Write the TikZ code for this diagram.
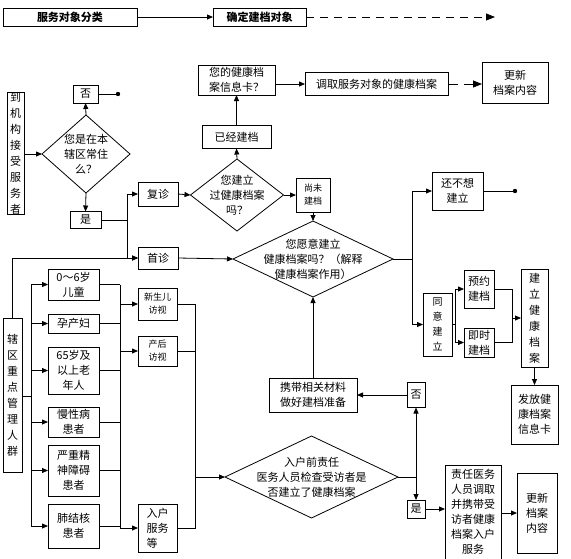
\documentclass[tikz,border=0pt]{standalone}
\usepackage{fontspec}
\setmainfont{Noto Sans CJK SC}
\usetikzlibrary{shapes.geometric,arrows.meta}
\begin{document}
\begin{tikzpicture}[x=1pt,y=-1pt,
  box/.style={draw,line width=0.8pt,rectangle,inner sep=0pt,outer sep=0pt,align=center,font=\fontsize{11}{15}\selectfont},
  dia/.style={draw,line width=0.8pt,diamond,inner sep=0pt,outer sep=0pt},
  txt/.style={align=center,inner sep=0pt,font=\fontsize{11}{15}\selectfont},
  arr/.style={-{Triangle[length=6pt,width=5pt]},line width=0.8pt},
  ln/.style={line width=0.8pt},
  sm/.style={font=\fontsize{9}{13}\selectfont},
  vt/.style={font=\fontsize{11}{16}\selectfont},
  hd/.style={font=\fontsize{11}{15}\selectfont\bfseries}]
\useasboundingbox (0,0) rectangle (571,558);
% header
\node[box,hd,minimum width=134pt,minimum height=18pt] (h1) at (70,17) {服务对象分类};
\node[box,hd,minimum width=93pt,minimum height=18pt] (h2) at (259.5,17) {确定建档对象};
\coordinate (hend) at (495,17);
\draw[arr] (h1.east) -- (h2.west);
\draw[ln,dashed,dash pattern=on 8pt off 6pt,-{Triangle[length=9pt,width=7pt]}] (h2.east) -- (hend);
% upper left
\node[box,vt,minimum width=17pt,minimum height=118pt] (dao) at (15.5,153) {到\\机\\构\\接\\受\\服\\务\\者};
\node[dia,minimum width=88pt,minimum height=78pt] (d1) at (86,154) {};
\node[txt] (d1t) at (86,154) {您是在本\\辖区常住\\么？};
\node[box,minimum width=25pt,minimum height=18pt] (fou1) at (85.5,94) {否};
\coordinate (dot1) at (118,94);
\node[box,minimum width=31pt,minimum height=17pt] (shi1) at (85.5,220) {是};
\node[box,minimum width=40pt,minimum height=24pt] (fuzhen) at (158,194) {复诊};
\node[box,minimum width=40pt,minimum height=22pt] (shouzhen) at (158,258) {首诊};
\draw[arr] (dao.east |- d1.west) -- (d1.west);
\draw[arr] (d1.north) -- (fou1.south);
\draw[ln] (fou1.east) -- (dot1);
\fill (dot1) circle (2.2pt);
\draw[arr] (d1.south) -- (shi1.north);
\coordinate (b1) at (127,220);
\draw[ln] (shi1.east) -- (b1);
\draw[arr] (b1) |- (fuzhen.west);
\draw[arr] (b1) |- (shouzhen.west);
% middle top
\node[dia,minimum width=93pt,minimum height=72pt] (d2) at (237,195) {};
\node[txt] (d2t) at (237,195) {您建立\\过健康档案\\吗？};
\node[box,minimum width=69pt,minimum height=23pt] (yijing) at (236.5,137) {已经建档};
\node[box,minimum width=77pt,minimum height=30pt] (card) at (236.5,80) {您的健康档\\案信息卡？};
\node[box,minimum width=143pt,minimum height=23pt] (diaoqu) at (376.5,84) {调取服务对象的健康档案};
\node[box,minimum width=66pt,minimum height=41pt] (gx1) at (515,82.5) {更新\\档案内容};
\node[box,sm,minimum width=34pt,minimum height=34pt] (shangwei) at (313,195) {尚未\\建档};
\draw[arr] (fuzhen.east) -- (d2.west);
\draw[arr] (d2.north) -- (yijing.south);
\draw[arr] (yijing.north) -- (card.south);
\draw[arr] (card.east |- diaoqu.west) -- (diaoqu.west);
\draw[ln,dash pattern=on 10pt off 6pt,-{Triangle[length=9pt,width=7pt]}] (diaoqu.east) -- (gx1.west |- diaoqu.east);
\draw[arr] (d2.east) -- (shangwei.west);
% willing diamond
\node[dia,minimum width=160pt,minimum height=76pt] (d3) at (313,259) {};
\node[txt] (d3t) at (313,259) {您愿意建立\\健康档案吗？（解释\\健康档案作用）};
\draw[arr] (shangwei.south) -- (d3.north);
\draw[arr] (shouzhen.east) -- (d3.west);
% right side
\node[box,minimum width=51pt,minimum height=38pt] (huanbu) at (457.5,191) {还不想\\建立};
\coordinate (dot2) at (515,191);
\node[box,font=\fontsize{10}{15}\selectfont,minimum width=29pt,minimum height=63pt] (tongyi) at (437.5,324.5) {同\\意\\建\\立};
\node[box,minimum width=30pt,minimum height=38pt] (yuyue) at (479,289) {预约\\建档};
\node[box,minimum width=30pt,minimum height=29pt] (jishi) at (479,342.5) {即时\\建档};
\node[box,vt,minimum width=27pt,minimum height=98pt] (jianli) at (534.5,318) {建\\立\\健\\康\\档\\案};
\node[box,minimum width=47pt,minimum height=59pt] (fafang) at (534.5,414.5) {发放健\\康档案\\信息卡};
\coordinate (b2) at (412,259);
\draw[ln] (d3.east) -- (b2);
\draw[arr] (b2) |- (huanbu.west);
\draw[arr] (b2) |- (tongyi.west);
\draw[ln] (huanbu.east) -- (dot2);
\fill (dot2) circle (2.2pt);
\coordinate (b3) at (455,324.5);
\draw[ln] (tongyi.east) -- (b3);
\draw[arr] (b3) |- (yuyue.west);
\draw[arr] (b3) |- (jishi.west);
\coordinate (b4) at (512,318);
\draw[ln] (yuyue.east) -| (b4);
\draw[ln] (jishi.east) -| (b4);
\draw[arr] (b4) -- (jianli.west |- b4);
\draw[arr] (jianli.south) -- (fafang.north);
% lower left
\node[box,vt,minimum width=19pt,minimum height=154pt] (xiaqu) at (12.5,395) {辖\\区\\重\\点\\管\\理\\人\\群};
\node[box,minimum width=51pt,minimum height=31pt] (g1) at (73.5,284.5) {0～6岁\\儿童};
\node[box,minimum width=51pt,minimum height=19pt] (g2) at (73.5,323.5) {孕产妇};
\node[box,minimum width=51pt,minimum height=47pt] (g3) at (73.5,370.5) {65岁及\\以上老\\年人};
\node[box,minimum width=51pt,minimum height=30pt] (g4) at (73.5,422) {慢性病\\患者};
\node[box,minimum width=51pt,minimum height=51pt] (g5) at (73.5,470.5) {严重精\\神障碍\\患者};
\node[box,minimum width=51pt,minimum height=44pt] (g6) at (73.5,526) {肺结核\\患者};
\node[box,sm,minimum width=39pt,minimum height=32pt] (xinsheng) at (157.5,304) {新生儿\\访视};
\node[box,sm,minimum width=39pt,minimum height=30pt] (chanhou) at (157.5,351) {产后\\访视};
\node[box,align=left,minimum width=39pt,minimum height=48pt] (ruhu) at (157.5,528) {入户\\服务\\等};
\draw[arr] (xiaqu.north) |- (shouzhen.west);
\coordinate (b5) at (31,396);
\draw[ln] (xiaqu.east |- b5) -- (b5);
\foreach \g in {g1,g2,g3,g4,g5,g6} {\draw[arr] (b5) |- (\g.west);}
\coordinate (b6t) at (120,284.5);
\coordinate (b6b) at (120,528);
\draw[ln] (b6t) -- (b6b);
\foreach \g in {g1,g2,g3,g4,g5,g6} {\draw[ln] (\g.east) -- (\g.east -| b6t);}
\draw[arr] (b6t |- xinsheng.west) -- (xinsheng.west);
\draw[arr] (b6t |- chanhou.west) -- (chanhou.west);
\draw[arr] (b6b) -- (ruhu.west);
% lower middle
\node[dia,minimum width=173pt,minimum height=82pt] (d4) at (311.5,477) {};
\node[txt] (d4t) at (311.5,477) {入户前责任\\医务人员检查受访者是\\否建立了健康档案};
\node[box,minimum width=88pt,minimum height=34pt] (xiedai) at (313,395) {携带相关材料\\做好建档准备};
\node[box,minimum width=18pt,minimum height=25pt] (fou2) at (416,395) {否};
\node[box,minimum width=18pt,minimum height=18pt] (shi2) at (416,509) {是};
\node[box,minimum width=56pt,minimum height=94pt] (zeren) at (473,512) {责任医务\\人员调取\\并携带受\\访者健康\\档案入户\\服务};
\node[box,minimum width=40pt,minimum height=80pt] (gx2) at (537,513) {更新\\档案\\内容};
\coordinate (b7) at (195,477);
\draw[ln] (xinsheng.east) -| (b7);
\draw[ln] (chanhou.east) -| (b7);
\draw[ln] (ruhu.east) -| (b7);
\draw[arr] (b7) -- (d4.west);
\draw[ln] (d4.east) -- (fou2.south |- d4.east);
\draw[{Triangle[length=6pt,width=5pt]}-{Triangle[length=6pt,width=5pt]},line width=0.8pt] (fou2.south) -- (shi2.north);
\draw[arr] (fou2.west) -- (xiedai.east);
\draw[arr] (xiedai.north) -- (d3.south);
\draw[arr] (shi2.east) -- (zeren.west |- shi2.east);
\draw[arr] (zeren.east |- gx2.west) -- (gx2.west);
\end{tikzpicture}
\end{document}
